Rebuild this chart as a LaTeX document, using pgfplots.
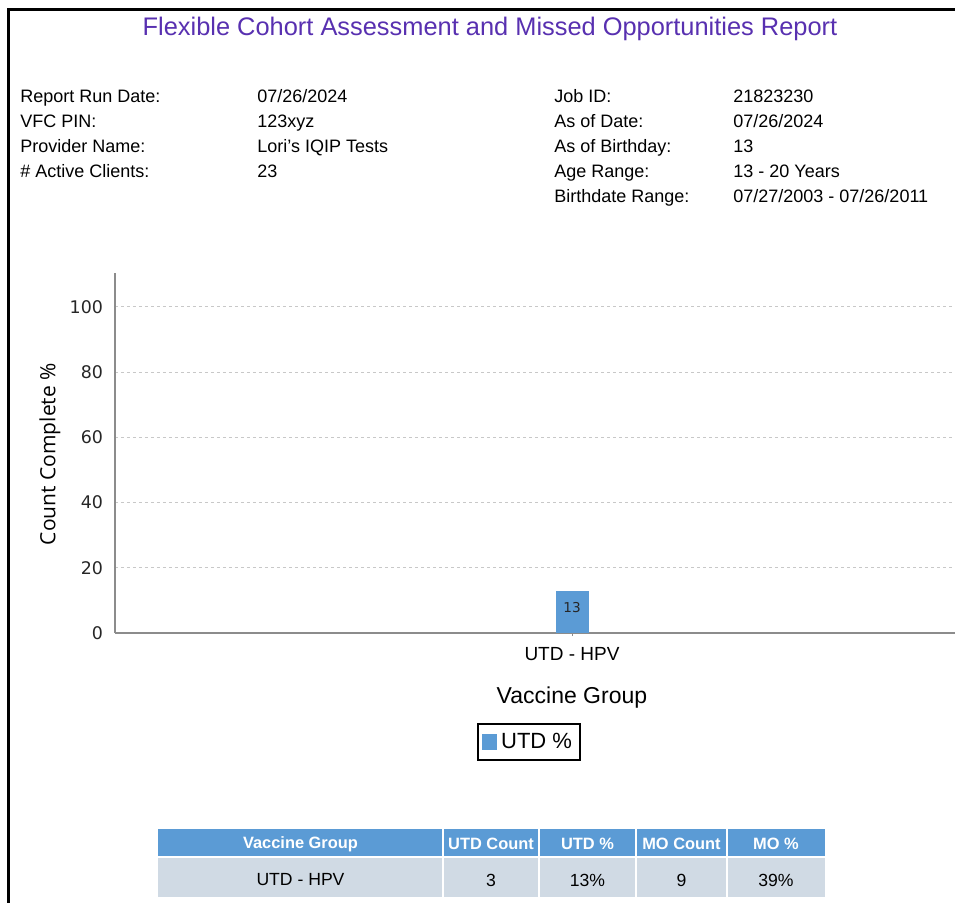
\documentclass[border=0pt]{standalone}
\usepackage{pgfplots}
\pgfplotsset{compat=1.18}
\usepackage{fontspec}
\setmainfont{Liberation Sans}
\newfontfamily\dejavu{DejaVu Sans}
\newfontfamily\opensans{Open Sans}
\definecolor{titlepurple}{RGB}{88,48,176}
\definecolor{barblue}{RGB}{91,155,213}
\definecolor{rowgray}{RGB}{208,218,228}
\definecolor{axisgray}{RGB}{140,140,140}
\definecolor{gridgray}{RGB}{200,200,200}
\pgfplotstableread{
x y
0 13
}\utddata
\begin{document}
\begin{tikzpicture}
\begin{scope}[x=0.5pt,y=-0.5pt]
% frame
\draw[line width=1.5pt,black] (8.5,903) -- (8.5,10) -- (955,10);
% title
\node[font=\fontsize{12.7}{14}\selectfont,text=titlepurple] at (490,29) {Flexible Cohort Assessment and Missed Opportunities Report};
% header info
\begin{scope}[every node/.style={anchor=base west,font=\fontsize{9}{11}\selectfont,inner sep=0pt}]
\node at (20,103) {Report Run Date:};
\node at (20,128) {VFC PIN:};
\node at (20,153) {Provider Name:};
\node at (20,178) {\# Active Clients:};
\node at (257,103) {07/26/2024};
\node at (257,128) {123xyz};
\node at (257,153) {Lori's IQIP Tests};
\node at (257,178) {23};
\node at (554,103) {Job ID:};
\node at (554,128) {As of Date:};
\node at (554,153) {As of Birthday:};
\node at (554,178) {Age Range:};
\node at (554,203) {Birthdate Range:};
\node at (733,103) {21823230};
\node at (733,128) {07/26/2024};
\node at (733,153) {13};
\node at (733,178) {13 - 20 Years};
\node at (733,203) {07/27/2003 - 07/26/2011};
\end{scope}
% table
\fill[barblue] (158,829) rectangle (825,857);
\fill[rowgray] (158,858) rectangle (825,897);
\draw[white,line width=1pt] (158,857.5) -- (825,857.5);
\foreach \xx in {443,539,636,727} {\draw[white,line width=1pt] (\xx,829) -- (\xx,897);}
\begin{scope}[every node/.style={font=\bfseries\fontsize{8.2}{10}\selectfont,text=white,inner sep=0pt}]
\node at (300.5,844) {Vaccine Group};
\node at (491,844) {UTD Count};
\node at (587.5,844) {UTD \%};
\node at (681.5,844) {MO Count};
\node at (776,844) {MO \%};
\end{scope}
\begin{scope}[every node/.style={font=\fontsize{8.8}{10}\selectfont,text=black,inner sep=0pt}]
\node at (300.5,880) {UTD - HPV};
\node at (491,880) {3};
\node at (587.5,880) {13\%};
\node at (681.5,880) {9};
\node at (776,880) {39\%};
\end{scope}
\end{scope}
% chart
\begin{axis}[
  at={(57.5pt,-316.5pt)}, anchor=south west,
  scale only axis, width=420pt, height=180pt,
  xmin=-1, xmax=0.838, ymin=0, ymax=110.4,
  axis x line=bottom, axis y line=left,
  axis line style={axisgray, line width=1pt, -},
  xtick={0}, xticklabels={UTD - HPV},
  ytick={0,20,40,60,80,100},
  major tick length=3pt,
  ytick style={draw=none},
  xtick style={axisgray, line width=0.4pt},
  ymajorgrids, grid style={gridgray, dash pattern=on 1.5pt off 1.5pt, line width=0.5pt},
  /pgf/number format/assume math mode=true,
  yticklabel style={font=\dejavu\fontsize{8.7}{10}\selectfont, text=black!85, xshift=-1pt},
  xticklabel style={font=\fontsize{9.5}{11}\selectfont, yshift=-2pt},
  ylabel={Count Complete \%},
  xlabel={Vaccine Group},
  every axis y label/.style={at={(axis description cs:-0.0774,0.497)}, rotate=90, anchor=center, font=\opensans\fontsize{10.5}{12}\selectfont},
  every axis x label/.style={at={(axis description cs:0.544,-0.178)}, anchor=center, font=\fontsize{11.5}{13}\selectfont},
  legend style={at={(axis description cs:0.493,-0.303)}, anchor=center, draw=black, line width=1pt, font=\fontsize{11}{13}\selectfont, inner xsep=2pt, inner ysep=2.5pt},
  legend image code/.code={\fill[barblue] (0pt,-4pt) rectangle (7.5pt,4pt);},
  legend cell align=left,
  nodes near coords,
  every node near coord/.append style={anchor=north, yshift=-2.5pt, font=\dejavu\fontsize{6.8}{8}\selectfont, text=black!85},
  clip=false,
]
\addplot[ybar, bar width=16.5pt, fill=barblue, draw=none] table[x=x,y=y] {\utddata};
\addlegendentry{UTD \%}
\end{axis}
\pgfresetboundingbox
\path[use as bounding box] (0pt,0pt) rectangle (477.5pt,-451.5pt);
\end{tikzpicture}
\end{document}
